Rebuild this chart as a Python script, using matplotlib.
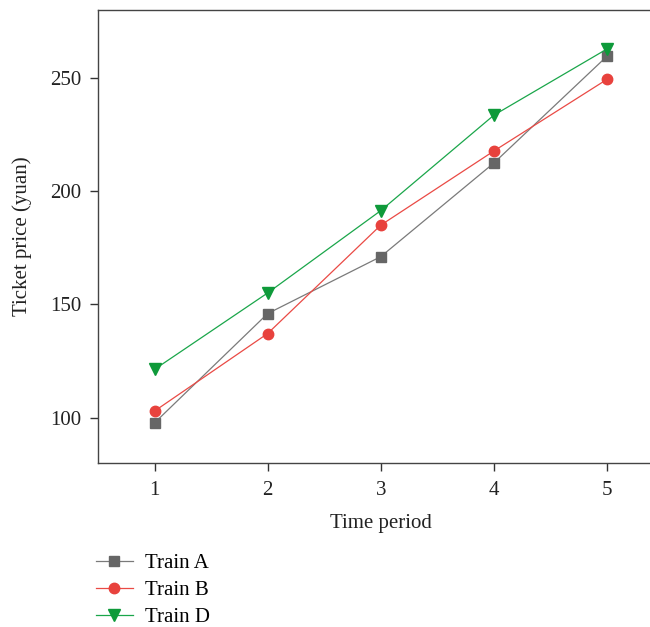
import matplotlib
matplotlib.use('Agg')
import matplotlib.pyplot as plt

# Ticket prices
periods = [1, 2, 3, 4, 5]
train_a = [97.7, 145.9, 171.0, 212.3, 259.4]
train_b = [102.9, 137.1, 184.9, 217.6, 249.2]
train_d = [121.3, 155.0, 191.3, 233.4, 262.6]
y_ticks = [100, 150, 200, 250]

plt.rcParams['font.family'] = ['Liberation Serif', 'DejaVu Serif']

fig = plt.figure(figsize=(6.5, 6.27), dpi=100)
ax = fig.add_axes([0.1508, 0.2616, 0.87, 0.7232])

ax.plot(periods, train_a, color='#7a7a7a', lw=0.9, marker='s', ms=6.5,
        mfc='#666666', mec='#666666', label='Train A')
ax.plot(periods, train_b, color='#ea4a45', lw=0.9, marker='o', ms=7.5,
        mfc='#e8423d', mec='#e8423d', label='Train B')
ax.plot(periods, train_d, color='#1aa64a', lw=0.9, marker='v', ms=8.5,
        mfc='#0e9a3a', mec='#0e9a3a', label='Train D')

ax.set_xlim(0.5, 5.5)
ax.set_ylim(80, 280)
ax.set_xticks(periods)
ax.set_yticks(y_ticks)

for s in ['left', 'bottom', 'top', 'right']:
    ax.spines[s].set_color('#444444')
    ax.spines[s].set_linewidth(1.0)

ax.tick_params(direction='out', length=6, width=1.0, color='#333333',
               labelsize=15, pad=7, labelcolor='#222222')
ax.tick_params(axis='y', pad=6)
ax.set_xlabel('Time period', fontsize=15, color='#222222', labelpad=10)
ax.set_ylabel('Ticket price (yuan)', fontsize=15, color='#222222', labelpad=13)

fig.legend(loc='upper left', bbox_to_anchor=(0.148, 0.117), frameon=False,
           fontsize=15, handlelength=1.75, handletextpad=0.6,
           labelspacing=0.36, borderaxespad=0, borderpad=0)

plt.savefig('out.png', dpi=100)
